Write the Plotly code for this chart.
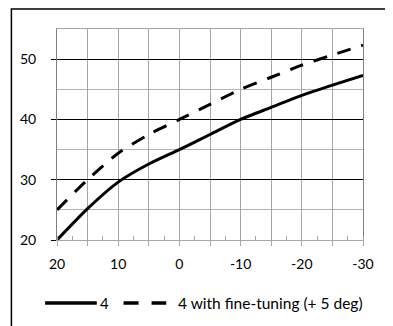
import plotly.graph_objects as go

temps = [20, 15, 10, 5, 0, -5, -10, -15, -20, -25, -30]
base = [20, 25.2, 29.6, 32.6, 35, 37.5, 40, 42, 44, 45.7, 47.3]
tuned = [25, 30, 34.4, 37.5, 40, 42.5, 45, 47, 49, 50.7, 52.3]

x_ticks = [20, 15, 10, 5, 0, -5, -10, -15, -20, -25, -30]
x_labels = ["20", "", "10", "", "0", "", "-10", "", "-20", "", "-30"]
y_ticks = [20, 30, 40, 50]
series_names = ["4", "4 with fine-tuning (+ 5 deg)"]

fig = go.Figure()
fig.add_trace(go.Scatter(
    x=temps, y=base, mode='lines', name=series_names[0],
    line=dict(color="black", width=3, shape="spline", smoothing=0.7),
))
fig.add_trace(go.Scatter(
    x=temps, y=tuned, mode='lines', name=series_names[1],
    line=dict(color="black", width=3, dash="14px,11px", shape="spline", smoothing=0.7),
))

# legend drawn by hand (longer samples than plotly's legend allows)
leg_y = -0.299
legend_shapes = [
    dict(type="line", xref="paper", yref="paper", x0=-0.039, x1=0.130, y0=leg_y, y1=leg_y,
         line=dict(color="black", width=3.5)),
    dict(type="line", xref="paper", yref="paper", x0=0.2175, x1=0.357, y0=leg_y, y1=leg_y,
         line=dict(color="black", width=3.5, dash="15px,13px")),
]
legend_labels = [
    dict(xref="paper", yref="paper", x=0.133, y=leg_y, text=series_names[0],
         showarrow=False, xanchor="left", yanchor="middle", font=dict(size=15)),
    dict(xref="paper", yref="paper", x=0.39, y=leg_y, text=series_names[1],
         showarrow=False, xanchor="left", yanchor="middle", font=dict(size=15.5)),
]

# page has an 8px body offset, margins compensate for it
fig.update_layout(
    width=393, height=326,
    margin=dict(l=47, r=38, t=21, b=94),
    paper_bgcolor="white", plot_bgcolor="white",
    font=dict(family="Lato, Open Sans, sans-serif", size=14, color="black"),
    showlegend=False,
    shapes=[dict(type="rect", xref="paper", yref="paper",
                 x0=-0.149, y0=-0.6, x1=1.3, y1=1.095,
                 line=dict(color="black", width=1.5))] + legend_shapes,
    annotations=legend_labels,
)

fig.update_xaxes(
    range=[20, -30], tickvals=x_ticks, ticktext=x_labels,
    showgrid=True, gridcolor="#a6a6a6", gridwidth=1,
    showline=True, linecolor="#a6a6a6", mirror=True,
    ticks="outside", ticklen=5, tickcolor="#a6a6a6",
    ticklabelstandoff=6,
    minor=dict(dtick=2.5, tick0=0, ticks="inside", ticklen=4,
               tickcolor="#a6a6a6", showgrid=False),
    zeroline=False,
)
fig.update_yaxes(
    range=[20, 55], tickvals=y_ticks,
    showgrid=True, gridcolor="black", gridwidth=1,
    showline=True, linecolor="#808080", mirror=True,
    ticks="outside", ticklen=5, tickcolor="black",
    ticklabelstandoff=12,
    minor=dict(dtick=5, tick0=0, showgrid=True, gridcolor="#b4b4b4", gridwidth=1),
    zeroline=False,
)

fig.write_html("out.html")
